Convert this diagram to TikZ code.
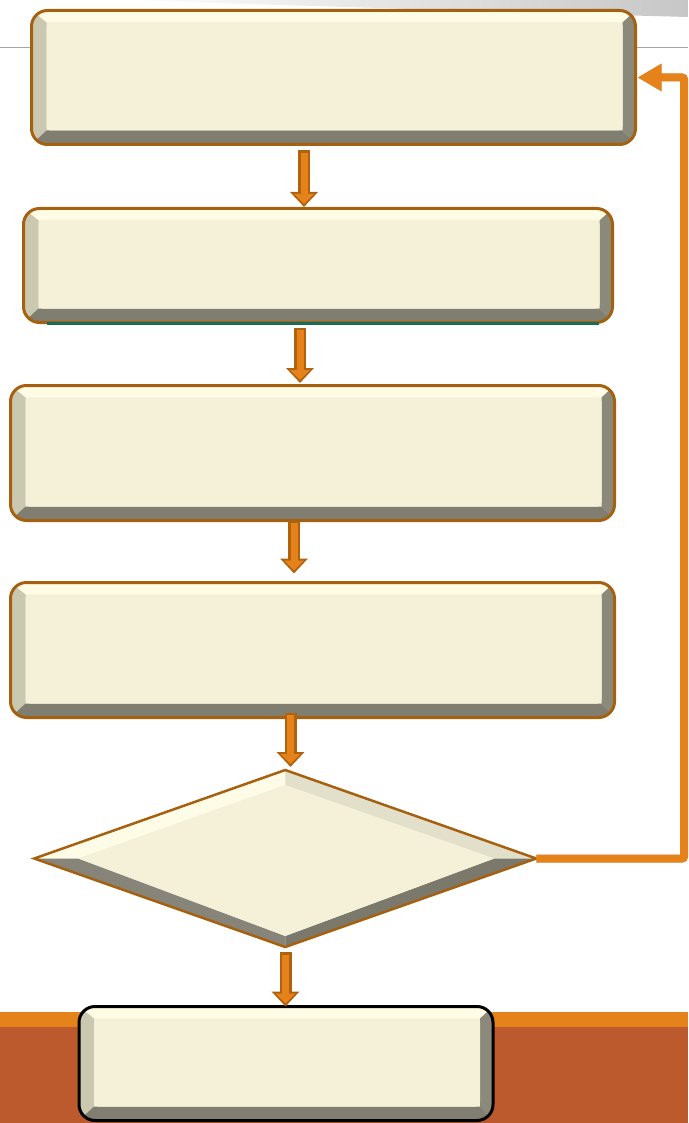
\documentclass[tikz,border=0pt]{standalone}
\usepackage{tikz}
\usetikzlibrary{calc, arrows.meta, shapes.geometric}
\definecolor{face}{HTML}{F5F0D8}
\definecolor{bevtop}{HTML}{FFFBE4}
\definecolor{bevleft}{HTML}{CBC8B1}
\definecolor{bevright}{HTML}{8B897A}
\definecolor{bevbot}{HTML}{7F7E70}
\definecolor{rim}{HTML}{A5610F}
\definecolor{arrfill}{HTML}{E5821A}
\definecolor{arrline}{HTML}{B0620E}
\definecolor{rust}{HTML}{BC5A2D}
\definecolor{seagreen}{HTML}{1E6B50}
\tikzset{>=latex}
\tikzset{
  bevel/.style={rectangle, rounded corners=16pt, draw=rim, line width=3pt, fill=face,
    inner sep=0pt, outer sep=0pt,
    path picture={
      \begin{scope}[sharp corners]
      \path (path picture bounding box.north west) coordinate (pnw)
            (path picture bounding box.south east) coordinate (pse)
            (pse |- pnw) coordinate (pne) (pnw |- pse) coordinate (psw)
            ($(pnw)+(15,12)$) coordinate (qnw) ($(pne)+(-13,12)$) coordinate (qne)
            ($(pse)+(-13,-14)$) coordinate (qse) ($(psw)+(15,-14)$) coordinate (qsw);
      \fill[bevtop] (pnw) -- (pne) -- (qne) -- (qnw) -- cycle;
      \fill[bevleft] (pnw) -- (qnw) -- (qsw) -- (psw) -- cycle;
      \fill[bevright] (pne) -- (pse) -- (qse) -- (qne) -- cycle;
      \fill[bevbot] (psw) -- (qsw) -- (qse) -- (pse) -- cycle;
      \fill[face, rounded corners=4pt] (qnw) rectangle (qse);
      \end{scope}
    }},
  decide/.style={diamond, draw=rim, line width=2.5pt, fill=face, inner sep=0pt, outer sep=0pt,
    minimum width=502pt, minimum height=177pt,
    path picture={
      \path (path picture bounding box.west) coordinate (dw)
            (path picture bounding box.north) coordinate (dn)
            (path picture bounding box.east) coordinate (de)
            (path picture bounding box.south) coordinate (ds)
            ($(dw)+(44,0)$) coordinate (ew) ($(dn)+(0,15)$) coordinate (en)
            ($(de)+(-42,0)$) coordinate (ee) ($(ds)+(0,-11)$) coordinate (es);
      \fill[HTML=FEFCE6] (dw) -- (dn) -- (en) -- (ew) -- cycle;
      \fill[HTML=E2E0CA] (dn) -- (de) -- (ee) -- (en) -- cycle;
      \fill[HTML=87857A] (dw) -- (ew) -- (es) -- (ds) -- cycle;
      \fill[HTML=7A796C] (ds) -- (es) -- (ee) -- (de) -- cycle;
      \fill[face] (ew) -- (en) -- (ee) -- (es) -- cycle;
    }},
  blkout/.style={line width=12pt, draw=arrline, -{Triangle[width=27pt,length=15pt]}},
  blkin/.style={line width=7pt, draw=arrfill, shorten <=2.5pt, shorten >=3pt,
    -{Triangle[width=19pt,length=10pt]}},
  feedback/.style={line width=8pt, draw=arrfill, rounded corners=2pt,
    -{Triangle[width=26pt,length=24pt]}},
  HTML/.code={\definecolor{tmpc}{HTML}{#1}\pgfkeysalso{color=tmpc}}
}
\newcommand\blockarrow[2]{\draw[blkout] #1 -- #2; \draw[blkin] #1 -- #2;}

\begin{document}
\begin{tikzpicture}[x=1pt, y=-1pt]
\useasboundingbox (0,0) rectangle (688,1123);
% slide background
\shade[left color=white, middle color=black!55, right color=black!22]
  (122,0) -- (688,0) -- (688,17) .. controls (500,12) and (250,4) .. (122,0) -- cycle;
\draw[black!35, line width=1pt] (0,48) -- (688,48);
\fill[arrfill] (0,1012) rectangle (688,1027);
\fill[rust] (0,1027) rectangle (688,1123);

% boxes
\node[bevel, minimum width=604pt, minimum height=134pt] (b1) at (333.5,77.5) {};
\node[bevel, minimum width=589pt, minimum height=114pt] (b2) at (318,265.5) {};
\draw[seagreen, line width=2.5pt] ([xshift=23pt, yshift=-1pt]b2.south west) -- ([xshift=-14pt, yshift=-1pt]b2.south east);
\node[bevel, minimum width=604pt, minimum height=135pt] (b3) at (312.5,453) {};
\node[bevel, minimum width=604pt, minimum height=135pt] (b4) at (312.5,650) {};
\node[decide] (dm) at (285.25,858.5) {};
\node[bevel, draw=black, minimum width=414pt, minimum height=114pt] (b6) at (286,1063.5) {};

% arrows
\blockarrow{([xshift=-29.5pt, yshift=-6pt]b1.south)}{([xshift=-14pt, yshift=1.5pt]b2.north)}
\blockarrow{([xshift=-18pt, yshift=-5pt]b2.south)}{([xshift=-12.5pt, yshift=2.5pt]b3.north)}
\blockarrow{([xshift=-18.5pt, yshift=0pt]b3.south)}{([xshift=-18.5pt, yshift=9pt]b4.north)}
\blockarrow{([xshift=-22pt, yshift=5pt]b4.south)}{([xshift=5.25pt, yshift=3pt]dm.north)}
\blockarrow{([xshift=0.25pt, yshift=-5pt]dm.south)}{([xshift=-0.5pt, yshift=0pt]b6.north)}

% back to the top
\coordinate (loop) at (684,77.5);
\begin{scope}[shift={(3,4)}]
\draw[feedback, draw=black!40, opacity=.45] (dm.east) -| (loop) -- ([xshift=2pt]b1.east);
\end{scope}
\draw[feedback] (dm.east) -| (loop) -- ([xshift=2pt]b1.east);
\end{tikzpicture}
\end{document}
